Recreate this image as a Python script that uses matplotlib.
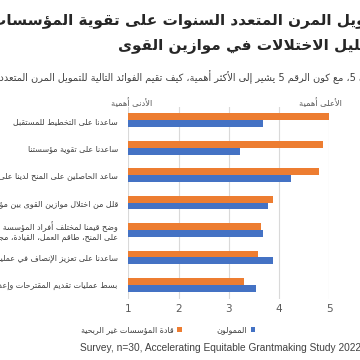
import re
import matplotlib
matplotlib.use("Agg")
import matplotlib.pyplot as plt
import numpy as np
from matplotlib.patches import Patch

# ---------------- data ----------------
categories = [
    "ساعدنا على التخطيط للمستقبل",
    "ساعدنا على تقوية مؤسستنا",
    "ساعد الحاصلين على المنح لدينا على تقوية مؤسساتهم",
    "قلّل من اختلال موازين القوى بين مؤسستنا والحاصلين على المنح",
    "وضّح قيمنا لمختلف أفراد المؤسسة الحاصلين\nعلى المنح، طاقم العمل، القيادة، مجلس الإدارة",
    "ساعدنا على تعزيز الإنصاف في عمليات منح التمويل",
    "بسّط عمليات تقديم المقترحات وإعداد التقارير",
]
nonprofit_leaders = [5.0, 4.87, 4.80, 3.87, 3.65, 3.58, 3.30]
funders = [3.69, 3.23, 4.23, 3.79, 3.69, 3.87, 3.55]
series_names = ["قادة المؤسسات غير الربحية", "المموّلون"]
x_ticks = [1, 2, 3, 4, 5]
title_line1 = "أثر التمويل المرن المتعدد السنوات على تقوية المؤسسات"
title_line2 = "وتقليل الاختلالات في موازين القوى"
subtitle_prefix = "على مقياس من 1 إلى "
subtitle_rest = "5، مع كون الرقم 5 يشير إلى الأكثر أهمية، كيف تُقيّم الفوائد التالية للتمويل المرن المتعدد السنوات؟"
low_label = "الأدنى أهمية"
high_label = "الأعلى أهمية"
source = "Survey, n=30, Accelerating Equitable Grantmaking Study 2022"

# ---------------- simple Arabic shaping ----------------
_TAB = {
    '\u0621': (0xFE80, 1), '\u0622': (0xFE81, 2), '\u0623': (0xFE83, 2),
    '\u0624': (0xFE85, 2), '\u0625': (0xFE87, 2), '\u0626': (0xFE89, 4),
    '\u0627': (0xFE8D, 2), '\u0628': (0xFE8F, 4), '\u0629': (0xFE93, 2),
    '\u062A': (0xFE95, 4), '\u062B': (0xFE99, 4), '\u062C': (0xFE9D, 4),
    '\u062D': (0xFEA1, 4), '\u062E': (0xFEA5, 4), '\u062F': (0xFEA9, 2),
    '\u0630': (0xFEAB, 2), '\u0631': (0xFEAD, 2), '\u0632': (0xFEAF, 2),
    '\u0633': (0xFEB1, 4), '\u0634': (0xFEB5, 4), '\u0635': (0xFEB9, 4),
    '\u0636': (0xFEBD, 4), '\u0637': (0xFEC1, 4), '\u0638': (0xFEC5, 4),
    '\u0639': (0xFEC9, 4), '\u063A': (0xFECD, 4), '\u0641': (0xFED1, 4),
    '\u0642': (0xFED5, 4), '\u0643': (0xFED9, 4), '\u0644': (0xFEDD, 4),
    '\u0645': (0xFEE1, 4), '\u0646': (0xFEE5, 4), '\u0647': (0xFEE9, 4),
    '\u0648': (0xFEED, 2), '\u0649': (0xFEEF, 2), '\u064A': (0xFEF1, 4),
}
_LAMALEF = {'\u0622': 0xFEF5, '\u0623': 0xFEF7, '\u0625': 0xFEF9, '\u0627': 0xFEFB}


def _is_mark(c):
    return '\u064B' <= c <= '\u0652' or c == '\u0670'


def _dual(c):
    return (c in _TAB and _TAB[c][1] == 4) or c == '\u0640'


def _joining(c):
    return (c in _TAB and _TAB[c][1] >= 2) or c == '\u0640'


def _shape(s):
    chars = [c for c in s if not _is_mark(c)]
    out = []
    n = len(chars)
    i = 0
    while i < n:
        c = chars[i]
        if c not in _TAB:
            out.append(c)
            i += 1
            continue
        prev = chars[i - 1] if i > 0 else None
        jp = prev is not None and _dual(prev) and _joining(c)
        if c == '\u0644' and i + 1 < n and chars[i + 1] in _LAMALEF:
            out.append(chr(_LAMALEF[chars[i + 1]] + (1 if jp else 0)))
            i += 2
            continue
        nxt = chars[i + 1] if i + 1 < n else None
        jn = _dual(c) and nxt is not None and _joining(nxt)
        base, nf = _TAB[c]
        if nf == 1:
            form = 0
        elif jp and jn:
            form = 3
        elif jn:
            form = 2
        elif jp:
            form = 1
        else:
            form = 0
        out.append(chr(base + form))
        i += 1
    return ''.join(out)


def ar(s):
    lines = []
    for line in s.split('\n'):
        v = _shape(line)[::-1]
        v = re.sub(r'[0-9]+', lambda m: m.group()[::-1], v)
        lines.append(v)
    return '\n'.join(lines)


# ---------------- figure ----------------
W = H = 360
fig = plt.figure(figsize=(3.6, 3.6), dpi=100)
fig.patch.set_facecolor('white')

ax_left, ax_right = 128.3, 329.3
ax_top, ax_bottom = 106.5, 298.5
ax = fig.add_axes([ax_left / W, 1 - ax_bottom / H, (ax_right - ax_left) / W, (ax_bottom - ax_top) / H])

orange = '#ED7D31'
blue = '#4472C4'
ypos = np.arange(len(categories))
bh = 0.25
ax.barh(ypos - bh / 2, [v - 1 for v in nonprofit_leaders], left=1, height=bh, color=orange, zorder=3, clip_on=False)
ax.barh(ypos + bh / 2, [v - 1 for v in funders], left=1, height=bh, color=blue, zorder=3, clip_on=False)

ax.set_xlim(1, 5)
ax.set_ylim(len(categories) - 0.5, -0.5)
ax.set_xticks(x_ticks)
ax.set_xticklabels([str(t) for t in x_ticks], fontsize=7.5, color='#595959', family='DejaVu Sans')
ax.set_yticks(ypos)
ax.set_yticklabels([ar(c) for c in categories], fontsize=5.8, color='#404040', family='DejaVu Sans',
                   multialignment='right', linespacing=1.1)
ax.tick_params(axis='both', length=0)
ax.tick_params(axis='x', pad=4)
ax.tick_params(axis='y', pad=7.5)
ax.grid(axis='x', color='#D9D9D9', linewidth=0.8, zorder=0)
for sp in ax.spines.values():
    sp.set_visible(False)

# annotations above axis
fig.text(132 / W, 1 - 103 / H, ar(low_label), ha='center', va='center', fontsize=6.0, color='#595959', family='DejaVu Sans')
fig.text(320 / W, 1 - 103 / H, ar(high_label), ha='center', va='center', fontsize=6.0, color='#595959', family='DejaVu Sans')

# title
fig.text(-9 / W, 1 - 20 / H, ar(title_line1), ha='left', va='center', fontsize=11, fontweight='bold',
         color='#262626', family='DejaVu Sans')
fig.text(118 / W, 1 - 47 / H, ar(title_line2), ha='left', va='center', fontsize=11, fontweight='bold',
         color='#262626', family='DejaVu Sans')

# subtitle: right-aligned so that the visible start is at the right edge
renderer = fig.canvas.get_renderer()
tmp = fig.text(0, 0, ar(subtitle_prefix), fontsize=7, family='DejaVu Sans')
wpref = tmp.get_window_extent(renderer).width
tmp.remove()
fig.text((356 + wpref) / W, 1 - 77 / H, ar(subtitle_prefix + subtitle_rest), ha='right', va='center',
         fontsize=7, color='#404040', family='DejaVu Sans')

# legend
handles = [Patch(facecolor=orange, label=ar(series_names[0])), Patch(facecolor=blue, label=ar(series_names[1]))]
leg = fig.legend(handles=handles, loc='center', bbox_to_anchor=(168 / W, 1 - 330 / H), ncol=2, frameon=False,
                 markerfirst=False, handlelength=0.6, handleheight=0.6, handletextpad=0.5,
                 columnspacing=4.2, prop={'family': 'DejaVu Sans', 'size': 5.8})
for t in leg.get_texts():
    t.set_color('#404040')

# source
fig.text(80 / W, 1 - 348 / H, source, ha='left', va='center', fontsize=7.3, color='#404040', family='Liberation Sans')

fig.savefig('out.png', dpi=100)
